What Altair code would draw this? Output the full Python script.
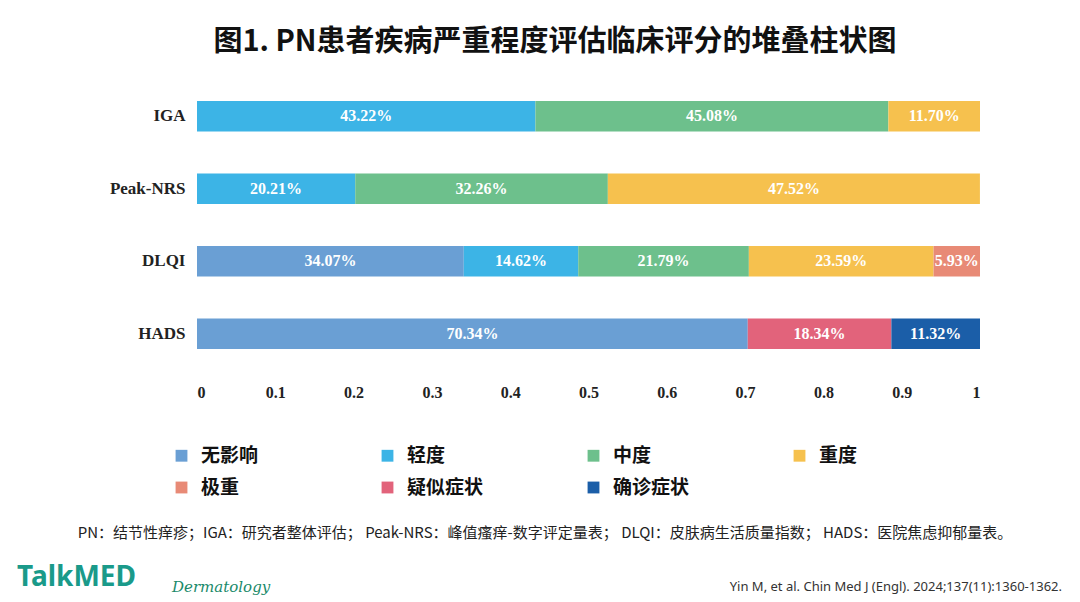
import altair as alt
import pandas as pd

scales = ["IGA", "Peak-NRS", "DLQI", "HADS"]
cats = ["无影响", "轻度", "中度", "重度", "极重", "疑似症状", "确诊症状"]
colors = ["#6a9fd4", "#3cb4e6", "#6dc08c", "#f6c14e", "#e88a76", "#e2637b", "#1b5ea8"]
series = {
    "IGA": [("轻度", 0.4322), ("中度", 0.4508), ("重度", 0.1170)],
    "Peak-NRS": [("轻度", 0.2021), ("中度", 0.3226), ("重度", 0.4752)],
    "DLQI": [("无影响", 0.3407), ("轻度", 0.1462), ("中度", 0.2179), ("重度", 0.2359), ("极重", 0.0593)],
    "HADS": [("无影响", 0.7034), ("疑似症状", 0.1834), ("确诊症状", 0.1132)],
}
ticks = [0, 0.1, 0.2, 0.3, 0.4, 0.5, 0.6, 0.7, 0.8, 0.9, 1]

rows = []
for s in scales:
    c = 0.0
    for cat, v in series[s]:
        rows.append(dict(scale=s, cat=cat, v=v, x0=c, x1=c + v, mid=c + v / 2, lab=f"{v*100:.2f}%"))
        c += v
df = pd.DataFrame(rows)

W, H = 783, 290
base = alt.Chart(df)
yenc = alt.Y("scale:N", sort=scales, title=None,
             scale=alt.Scale(paddingInner=0.58, paddingOuter=0.29),
             axis=alt.Axis(labelFont="Liberation Serif", labelFontWeight="bold", labelFontSize=17,
                           labelColor="#222", domain=False, ticks=False, labelPadding=12))
bars = base.mark_bar().encode(
    x=alt.X("x0:Q", scale=alt.Scale(domain=[0, 1], nice=False), title=None,
            axis=alt.Axis(values=ticks, format="~g", labelFont="Liberation Serif", labelFontWeight="bold",
                          labelFontSize=16, labelColor="#222", domain=False, ticks=False, grid=False,
                          labelPadding=14)),
    x2="x1:Q",
    y=yenc,
    color=alt.Color("cat:N", scale=alt.Scale(domain=cats, range=colors), title=None,
                    legend=alt.Legend(orient="none", legendX=-25, legendY=366, columns=4,
                                      direction="horizontal",
                                      gridAlign="all", columnPadding=100, rowPadding=12,
                                      symbolType="square", symbolSize=140, symbolStrokeWidth=0,
                                      labelFontSize=19, labelFont="Noto Sans CJK SC",
                                      labelFontWeight="bold", labelColor="#111", labelOffset=10)),
)
labels = base.mark_text(color="white", font="Liberation Serif", fontWeight="bold", fontSize=16).encode(
    x="mid:Q", y=alt.Y("scale:N", sort=scales), text="lab:N")

def txt(t, x, y, **kw):
    return alt.Chart(pd.DataFrame({"t": [t]})).mark_text(**kw).encode(
        x=alt.value(x), y=alt.value(y), text="t:N")

title = txt("图1. PN患者疾病严重程度评估临床评分的堆叠柱状图", 358, -38, fontSize=29, fontWeight="bold",
            font="Noto Sans CJK SC", color="#111", align="center")
foot = txt("PN：结节性痒疹；IGA：研究者整体评估；  Peak-NRS：峰值瘙痒-数字评定量表；  DLQI：皮肤病生活质量指数；  HADS：医院焦虑抑郁量表。",
           348, 453, fontSize=15, font="Noto Sans CJK SC", color="#222", align="center")
logo = txt("TalkMED", -180, 498, fontSize=28, font="Noto Sans", fontWeight="bold", color="#1a9a8a", align="left")
derm = txt("Dermatology", -25, 507, fontSize=15, font="DejaVu Serif", fontStyle="italic", color="#1a8a6a", align="left")
cite = txt("Yin M, et al. Chin Med J (Engl). 2024;137(11):1360-1362.", 865, 507, fontSize=13,
           font="Noto Sans", color="#333", align="right")

chart = alt.layer(bars, labels, title, foot, logo, derm, cite).properties(
    width=W, height=H, autosize=alt.AutoSizeParams(type="none"),
    padding={"left": 189, "top": 72, "right": 90, "bottom": 226},
).configure_view(stroke=None)

chart.save("out.html", embed_options={"renderer": "svg", "actions": False})
